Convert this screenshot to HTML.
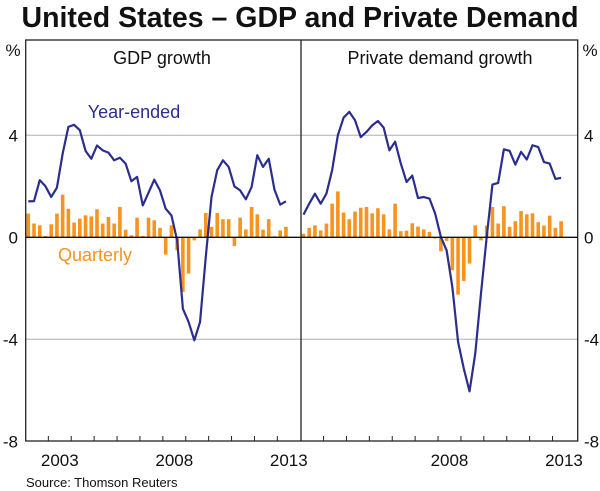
<!DOCTYPE html>
<html><head><meta charset="utf-8"><style>
body{margin:0;background:#fff;}
svg{display:block;font-family:"Liberation Sans",Arial,sans-serif;}
</style></head><body>
<svg id="chart" width="600" height="491" viewBox="0 0 600 491">
<text x="300" y="27" text-anchor="middle" font-size="28.5" font-weight="bold" fill="#111">United States – GDP and Private Demand</text>
<g id="grid"></g>
<g id="series"></g>
<rect x="25.7" y="40" width="552" height="401" fill="none" stroke="#222" stroke-width="1.3"/>
<line x1="301" y1="40" x2="301" y2="441" stroke="#222" stroke-width="1.3"/>
<text x="162" y="64" text-anchor="middle" font-size="18" fill="#111">GDP growth</text>
<text x="440" y="64" text-anchor="middle" font-size="18" fill="#111">Private demand growth</text>
<text x="13" y="56" text-anchor="middle" font-size="17" fill="#111">%</text>
<text x="590" y="56" text-anchor="middle" font-size="17" fill="#111">%</text>
<text x="134" y="118" text-anchor="middle" font-size="18" fill="#2b2e8c">Year-ended</text>
<text x="95" y="261" text-anchor="middle" font-size="18" fill="#f7931e">Quarterly</text>
<text x="26" y="487" font-size="13" fill="#111">Source: Thomson Reuters</text>
</svg>
<script>
const yTicks=[4,0,-4,-8];
const xLabelsLeft=["2003","2008","2013"];
const xLabelYearsLeft=[2003,2008,2013];
const xLabelsRight=["2008","2013"];
const xLabelYearsRight=[2008,2013];
const startYear=2002;
const gdpQuarterly=[0.93,0.54,0.47,0.05,0.51,0.93,1.67,1.12,0.58,0.73,0.86,0.82,1.10,0.54,0.80,0.54,1.19,0.30,0.08,0.77,0.05,0.77,0.67,0.37,-0.68,0.47,-0.51,-2.14,-1.42,-0.12,0.31,0.95,0.41,0.95,0.71,0.71,-0.34,0.77,0.31,1.19,0.90,0.30,0.71,0.04,0.27,0.41];
const gdpYearEnded=[1.41,1.42,2.24,2.0,1.58,1.95,3.28,4.33,4.41,4.2,3.39,3.08,3.6,3.41,3.32,3.02,3.12,2.89,2.2,2.37,1.25,1.75,2.26,1.84,1.12,0.86,-0.12,-2.8,-3.32,-4.04,-3.32,-0.77,1.58,2.63,3.02,2.76,2.0,1.84,1.49,1.97,3.22,2.76,3.08,1.87,1.28,1.41];
const pdQuarterly=[0.14,0.37,0.47,0.27,0.54,1.32,1.80,0.97,0.71,1.01,1.16,1.19,0.94,1.14,0.90,0.31,1.32,0.24,0.26,0.55,0.42,0.31,0.21,-0.05,-0.55,-0.14,-1.29,-2.25,-1.71,-1.03,0.47,-0.12,0.46,1.19,0.54,1.22,0.41,0.63,1.03,0.90,0.94,0.59,0.46,0.85,0.37,0.63];
const pdYearEnded=[0.89,1.32,1.71,1.32,1.71,2.63,4.0,4.69,4.92,4.59,3.93,4.13,4.39,4.56,4.3,3.41,3.75,2.89,2.17,2.42,1.54,1.58,1.52,0.93,0.01,-0.51,-1.95,-4.1,-5.15,-6.04,-4.56,-2.21,0.01,2.07,2.13,3.45,3.39,2.85,3.35,3.05,3.61,3.54,2.95,2.89,2.29,2.33];

const NS="http://www.w3.org/2000/svg";
const svg=document.getElementById('chart');
const grid=document.getElementById('grid');
const ser=document.getElementById('series');
const sp=5.725;
function y(v){return 237.3-25.5*v;}
function xL(i){return 28.3+i*sp;}
function xR(i){return 303.5+i*sp;}
function xYearL(yr){return xL((yr-startYear)*4+1.5);}
function xYearR(yr){return xR((yr-startYear)*4+1.5);}
function mk(tag,attrs,parent){const e=document.createElementNS(NS,tag);for(const k in attrs)e.setAttribute(k,attrs[k]);parent.appendChild(e);return e;}

yTicks.forEach(t=>{
  if(t!==0&&t!==-8){
    const g=mk('line',{x1:25.7,x2:577.7,y1:y(t),y2:y(t),stroke:'#c4c4c4','stroke-width':1.3},grid);
    
    
  }
  const a=mk('text',{x:18,y:y(t)+6,'text-anchor':'end','font-size':17,fill:'#111'},svg);
  a.textContent=t;
  
  
  const b=mk('text',{x:584,y:y(t)+6,'text-anchor':'start','font-size':17,fill:'#111'},svg);
  b.textContent=t;
  
  
});

function drawPanel(q,ye,xf,name){
  q.forEach((v,i)=>{
    const top=Math.min(y(v),y(0)),h=Math.abs(y(v)-y(0));
    const r=mk('rect',{x:xf(i)-1.8,y:top,width:3.6,height:Math.max(h,0.5),fill:'#f7931e'},ser);
    
    
  });
  const p=mk('polyline',{points:ye.map((v,i)=>xf(i)+','+y(v)).join(' '),fill:'none',stroke:'#2b2e8c','stroke-width':2.2,'stroke-linejoin':'round'},ser);
  
  
}
drawPanel(gdpQuarterly,gdpYearEnded,xL,'gdp');
drawPanel(pdQuarterly,pdYearEnded,xR,'private-demand');
const z=mk('line',{x1:25.7,x2:577.7,y1:y(0),y2:y(0),stroke:'#111','stroke-width':1.3},svg);



for(let k=0;k<11;k++){
  const t1=mk('line',{x1:xL(3.5+4*k),x2:xL(3.5+4*k),y1:441,y2:436,stroke:'#222','stroke-width':1},svg);
  
  
  const t2=mk('line',{x1:xR(3.5+4*k),x2:xR(3.5+4*k),y1:441,y2:436,stroke:'#222','stroke-width':1},svg);
  
  
}
xLabelsLeft.forEach((l,i)=>{
  const t=mk('text',{x:xYearL(xLabelYearsLeft[i]),y:466,'text-anchor':'middle','font-size':17,fill:'#111'},svg);
  t.textContent=l;
  
  
});
xLabelsRight.forEach((l,i)=>{
  const t=mk('text',{x:xYearR(xLabelYearsRight[i]),y:466,'text-anchor':'middle','font-size':17,fill:'#111'},svg);
  t.textContent=l;
  
  
});
</script>
</body></html>
